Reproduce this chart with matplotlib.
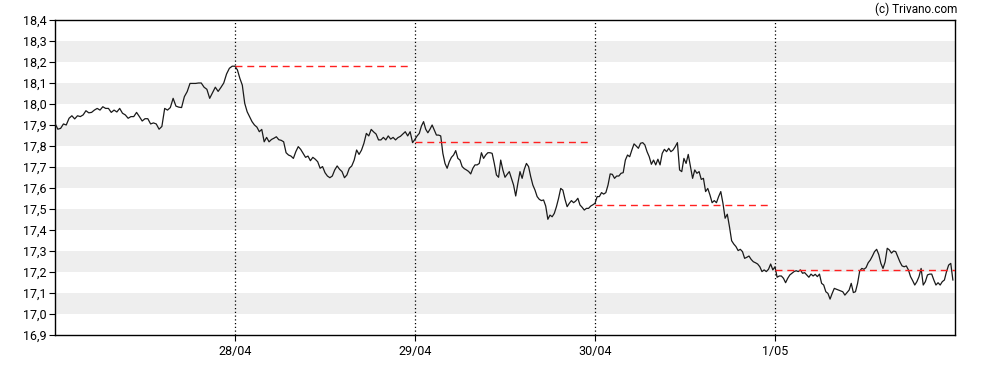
import numpy as np
import matplotlib.pyplot as plt
from matplotlib.ticker import FuncFormatter

plt.rcParams['font.family'] = ['Roboto', 'DejaVu Sans']

# intraday prices, one list per trading day (evenly spaced samples)
day1 = [17.908, 17.88, 17.884, 17.905, 17.90, 17.932, 17.944, 17.929, 17.944, 17.94,
        17.948, 17.968, 17.958, 17.96, 17.971, 17.979, 17.971, 17.987, 17.979, 17.979,
        17.96, 17.971, 17.962, 17.979, 17.956, 17.948, 17.932, 17.94, 17.94, 17.96,
        17.94, 17.919, 17.93, 17.93, 17.905, 17.91, 17.905, 17.88, 17.893, 17.979,
        17.971, 17.983, 18.027, 17.99, 17.985, 17.983, 18.035, 18.059, 18.098, 18.098,
        18.098, 18.1, 18.1, 18.08, 18.07, 18.027, 18.054, 18.08, 18.06, 18.079,
        18.1, 18.143, 18.17, 18.18]
day2 = [18.18, 18.162, 18.122, 18.09, 18.003, 17.963, 17.94, 17.916, 17.90, 17.89,
        17.868, 17.879, 17.82, 17.841, 17.82, 17.831, 17.837, 17.844, 17.83, 17.827,
        17.82, 17.768, 17.757, 17.752, 17.741, 17.773, 17.797, 17.784, 17.765, 17.746,
        17.752, 17.73, 17.746, 17.737, 17.725, 17.694, 17.702, 17.673, 17.657, 17.649,
        17.657, 17.686, 17.705, 17.689, 17.678, 17.649, 17.662, 17.694, 17.705, 17.733,
        17.781, 17.76, 17.78, 17.813, 17.86, 17.848, 17.879, 17.867, 17.857, 17.829,
        17.829, 17.841, 17.829, 17.848, 17.833, 17.841, 17.829, 17.84, 17.846, 17.857,
        17.868, 17.848, 17.868, 17.816]
day3 = [17.832, 17.848, 17.86, 17.895, 17.916, 17.88, 17.863, 17.88, 17.90, 17.876,
        17.852, 17.852, 17.848, 17.765, 17.717, 17.694, 17.725, 17.746, 17.757, 17.778,
        17.741, 17.733, 17.702, 17.692, 17.686, 17.679, 17.667, 17.694, 17.71, 17.71,
        17.717, 17.768, 17.741, 17.757, 17.768, 17.768, 17.765, 17.717, 17.662, 17.651,
        17.733, 17.686, 17.651, 17.665, 17.678, 17.646, 17.614, 17.562, 17.622, 17.678,
        17.646, 17.689, 17.717, 17.702, 17.654, 17.614, 17.59, 17.559, 17.546, 17.54,
        17.543, 17.514, 17.451, 17.471, 17.463, 17.479, 17.511, 17.551, 17.598, 17.59,
        17.546, 17.511, 17.527, 17.54, 17.530, 17.538, 17.551, 17.519, 17.508, 17.495,
        17.503, 17.503, 17.514, 17.52]
day4 = [17.527, 17.559, 17.559, 17.578, 17.571, 17.578, 17.614, 17.667, 17.665, 17.646,
        17.657, 17.657, 17.67, 17.673, 17.733, 17.757, 17.749, 17.781, 17.81, 17.8,
        17.789, 17.813, 17.816, 17.805, 17.773, 17.749, 17.713, 17.733, 17.71, 17.737,
        17.71, 17.765, 17.784, 17.773, 17.789, 17.773, 17.781, 17.797, 17.816, 17.686,
        17.678, 17.741, 17.717, 17.76, 17.702, 17.646, 17.686, 17.67, 17.678, 17.641,
        17.646, 17.583, 17.598, 17.567, 17.53, 17.54, 17.53, 17.559, 17.583, 17.527,
        17.456, 17.475, 17.416, 17.349, 17.333, 17.321, 17.302, 17.308, 17.297, 17.265,
        17.27, 17.276, 17.26, 17.249, 17.244, 17.238, 17.225, 17.202, 17.21, 17.202,
        17.213, 17.238, 17.21]
day5 = [17.225, 17.175, 17.181, 17.181, 17.17, 17.149, 17.17, 17.186, 17.194, 17.202,
        17.206, 17.202, 17.21, 17.194, 17.197, 17.186, 17.175, 17.19, 17.181, 17.189,
        17.178, 17.19, 17.146, 17.138, 17.106, 17.098, 17.071, 17.098, 17.122, 17.118,
        17.114, 17.11, 17.106, 17.09, 17.102, 17.114, 17.146, 17.102, 17.106, 17.146,
        17.205, 17.217, 17.213, 17.221, 17.244, 17.257, 17.276, 17.297, 17.308, 17.283,
        17.241, 17.217, 17.248, 17.313, 17.305, 17.29, 17.30, 17.297, 17.273, 17.248,
        17.229, 17.225, 17.229, 17.21, 17.178, 17.159, 17.138, 17.154, 17.178, 17.217,
        17.138, 17.154, 17.186, 17.19, 17.19, 17.162, 17.138, 17.149, 17.138, 17.154,
        17.162, 17.202, 17.233, 17.241, 17.162]
days = [day1, day2, day3, day4, day5]

day_labels = ['28/04', '29/04', '30/04', '1/05']
prev_close = [18.18, 17.82, 17.52, 17.21]

fig = plt.figure(figsize=(9.88, 3.70), dpi=100)
ax = fig.add_axes([55 / 988, 35 / 370, 900 / 988, 315 / 370])

# grey bands
for lo in np.arange(17.0, 18.3, 0.2):
    ax.axhspan(lo, lo + 0.1, color='#eeeeee', lw=0, zorder=0)

# price line
xs, ys = [], []
for d, vals in enumerate(days):
    n = len(vals)
    xs.extend(d + np.arange(n) / n)
    ys.extend(vals)
ax.plot(xs, ys, color='#1a1a1a', lw=0.9, zorder=3)

# day separators and previous close levels
for i, pc in enumerate(prev_close):
    ax.axvline(i + 1, color='black', ls=(0, (1, 2)), lw=0.9, zorder=2)
    end = i + 2 if i + 2 < len(days) else len(days)
    gap = 0.02 if end < len(days) else 0
    ax.plot([i + 1, end - gap], [pc, pc], color='#ff2020', lw=1,
            ls=(0, (5, 3.5)), zorder=4)

ax.set_xlim(0, len(days))
ax.set_ylim(16.9, 18.4)
ax.set_yticks(np.round(np.arange(16.9, 18.41, 0.1), 1))
ax.yaxis.set_major_formatter(FuncFormatter(lambda v, p: f'{v:.1f}'.replace('.', ',')))
ax.set_xticks(range(1, len(days)))
ax.set_xticklabels(day_labels)
ax.tick_params(labelsize=9, length=4, width=0.8, colors='black', pad=2)
ax.tick_params(axis='x', pad=3)
for s in ax.spines.values():
    s.set_linewidth(1)

fig.text(957 / 988, 1 - 9 / 370, '(c) Trivano.com', ha='right', va='center', fontsize=8.5)

plt.savefig('out.png', dpi=100)
